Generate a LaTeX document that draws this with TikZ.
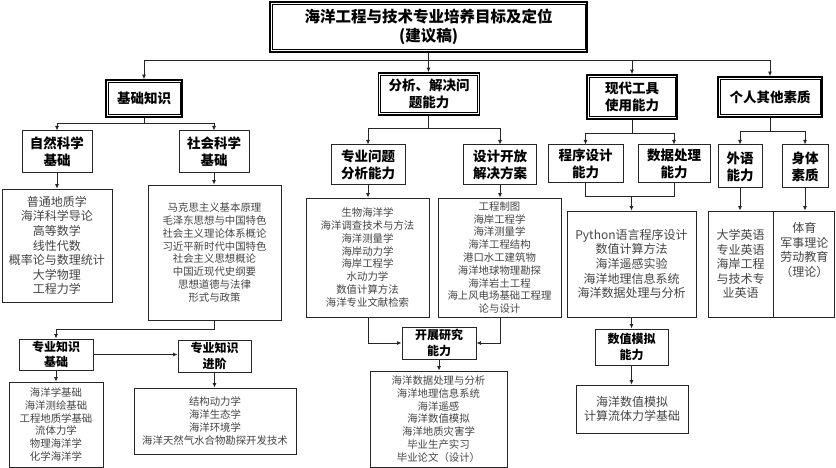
\documentclass[tikz,border=0pt]{standalone}
\usepackage{fontspec}
\setmainfont{Noto Sans CJK SC}
\usetikzlibrary{arrows.meta}
\definecolor{txtg}{HTML}{444444}
\tikzset{
  hd/.style={draw=black, line width=1.6pt, align=center, inner sep=0pt, font=\bfseries\fontsize{13.5}{17}\selectfont},
  sub/.style={draw=black!85, line width=1pt, align=center, inner sep=0pt, font=\bfseries\fontsize{13.5}{17}\selectfont},
  subs/.style={draw=black!85, line width=1pt, align=center, inner sep=0pt, font=\bfseries\fontsize{12}{15.5}\selectfont},
  lst/.style={draw=black!85, line width=0.8pt, align=center, inner sep=0pt, text=txtg, font=\fontsize{10.4}{12.8}\selectfont},
  lstb/.style={draw=black!85, line width=0.8pt, align=center, inner sep=0pt, text=txtg, font=\fontsize{12}{14.6}\selectfont},
  ln/.style={draw=black!85, line width=0.8pt},
  arr/.style={ln, -{Latex[length=4.5pt,width=4pt]}},
}
\newcommand{\dblin}[1]{\draw[line width=0.6pt] ([shift={(3,3)}]#1.north west) rectangle ([shift={(-3,-3)}]#1.south east);}
\begin{document}
\begin{tikzpicture}[x=1pt,y=-1pt]
\useasboundingbox (0,0) rectangle (836,468);
% title
\node[hd, minimum width=317pt, minimum height=50pt, font=\bfseries\fontsize{15.5}{19}\selectfont] (title) at (428.5,27) {海洋工程与技术专业培养目标及定位\\(建议稿)};
\dblin{title}
% level 1
\node[hd, minimum width=76pt, minimum height=37pt] (jc) at (144,98.5) {基础知识};
\node[hd, minimum width=101pt, minimum height=42pt] (fx) at (429,94) {分析、解决问\\题能力};
\node[hd, minimum width=90pt, minimum height=44pt] (xd) at (632,97) {现代工具\\使用能力};
\node[hd, minimum width=104pt, minimum height=40pt] (gr) at (770,97) {个人其他素质};
\dblin{jc}\dblin{fx}\dblin{xd}\dblin{gr}
% level 2
\node[sub, minimum width=70pt, minimum height=42pt] (zr) at (57,152) {自然科学\\基础};
\node[sub, minimum width=70pt, minimum height=42pt] (sh) at (214,152) {社会科学\\基础};
\node[sub, minimum width=74pt, minimum height=40pt] (zy) at (368,165) {专业问题\\分析能力};
\node[sub, minimum width=73pt, minimum height=40pt] (sj) at (500,165) {设计开放\\解决方案};
\node[sub, minimum width=75pt, minimum height=38pt] (cx) at (585.5,164) {程序设计\\能力};
\node[sub, minimum width=72pt, minimum height=38pt] (sc) at (674,164) {数据处理\\能力};
\node[sub, minimum width=44pt, minimum height=43pt] (wy) at (740,166.5) {外语\\能力};
\node[sub, minimum width=46pt, minimum height=43pt] (st) at (805,166.5) {身体\\素质};
% lists
\node[lstb, minimum width=110pt, minimum height=113pt] (zrl) at (57,245.5) {普通地质学\\海洋科学导论\\高等数学\\线性代数\\概率论与数理统计\\大学物理\\工程力学};
\node[lst, minimum width=133pt, minimum height=135pt] (shl) at (214.5,252.5) {马克思主义基本原理\\毛泽东思想与中国特色\\社会主义理论体系概论\\习近平新时代中国特色\\社会主义思想概论\\中国近现代史纲要\\思想道德与法律\\形式与政策};
\node[lst, minimum width=123pt, minimum height=119pt] (zyl) at (367.5,257.5) {生物海洋学\\海洋调查技术与方法\\海洋测量学\\海岸动力学\\海岸工程学\\水动力学\\数值计算方法\\海洋专业文献检索};
\node[lst, minimum width=123pt, minimum height=119pt] (sjl) at (499.5,257.5) {工程制图\\海岸工程学\\海洋测量学\\海洋工程结构\\港口水工建筑物\\海洋地球物理勘探\\海洋岩土工程\\海上风电场基础工程理\\论与设计};
\node[lstb, minimum width=129pt, minimum height=106pt] (gjl) at (631.5,264) {Python语言程序设计\\数值计算方法\\海洋遥感实验\\海洋地理信息系统\\海洋数据处理与分析};
\node[lstb, minimum width=65pt, minimum height=106pt] (wyl) at (740.5,264) {大学英语\\专业英语\\海岸工程\\与技术专\\业英语};
\node[lstb, minimum width=61pt, minimum height=106pt, anchor=north west] (stl) at (wyl.north east) {体育\\军事理论\\劳动教育\\（理论）\\[14.6pt]};
% lower
\node[subs, minimum width=74pt, minimum height=31pt] (jcz) at (56,354.5) {专业知识\\基础};
\node[subs, minimum width=73pt, minimum height=32pt] (jj) at (214.5,356) {专业知识\\进阶};
\node[lst, minimum width=94pt, minimum height=85pt] (jczl) at (56,424.5) {海洋学基础\\海洋测绘基础\\工程地质学基础\\流体力学\\物理海洋学\\化学海洋学};
\node[lst, minimum width=162pt, minimum height=66pt] (jjl) at (215,421) {结构动力学\\海洋生态学\\海洋环境学\\海洋天然气水合物勘探开发技术};
\node[subs, minimum width=74pt, minimum height=32pt] (kz) at (439,343) {开展研究\\能力};
\node[lst, minimum width=137pt, minimum height=96pt] (kzl) at (438.5,419) {海洋数据处理与分析\\海洋地理信息系统\\海洋遥感\\海洋数值模拟\\海洋地质灾害学\\毕业生产实习\\毕业论文（设计）};
\node[subs, minimum width=73pt, minimum height=36pt] (sz) at (631.5,347) {数值模拟\\能力};
\node[lstb, minimum width=112pt, minimum height=48pt] (szl) at (632,409) {海洋数值模拟\\计算流体力学基础};
% buses
\coordinate (b0) at (0,60);
\coordinate (b1) at (0,123);
\coordinate (b2) at (0,128);
\coordinate (b3) at (0,133);
\coordinate (b4) at (0,131);
\coordinate (b5) at (0,196);
\coordinate (b6) at (0,329);
\coordinate (b7) at (0,343);
% top bus
\draw[arr] (title.south) -- (title.south |- fx.north);
\draw[ln] (jc.north |- b0) -- (gr.north |- b0);
\draw[arr] (jc.north |- b0) -- (jc.north);
\draw[arr] (xd.north |- b0) -- (xd.north);
\draw[arr] (gr.north |- b0) -- (gr.north);
% jc fork
\draw[ln] (jc.south) -- (jc.south |- b1);
\draw[ln] (zr.north |- b1) -- (sh.north |- b1);
\draw[arr] (zr.north |- b1) -- (zr.north);
\draw[arr] (sh.north |- b1) -- (sh.north);
% fx fork
\draw[ln] (fx.south -| title.south) -- (title.south |- b2);
\draw[ln] (zy.north |- b2) -- (sj.north |- b2);
\draw[arr] (zy.north |- b2) -- (zy.north);
\draw[arr] (sj.north |- b2) -- (sj.north);
% xd fork
\draw[ln] (xd.south) -- (xd.south |- b3);
\draw[ln] (cx.north |- b3) -- (sc.north |- b3);
\draw[arr] (cx.north |- b3) -- (cx.north);
\draw[arr] (sc.north |- b3) -- (sc.north);
% gr fork
\draw[ln] (gr.south) -- (gr.south |- b4);
\draw[ln] (wy.north |- b4) -- (st.north |- b4);
\draw[arr] (wy.north |- b4) -- (wy.north);
\draw[arr] (st.north |- b4) -- (st.north);
% to lists
\draw[arr] (zr.south) -- (zr.south |- zrl.north);
\draw[arr] (sh.south) -- (sh.south |- shl.north);
\draw[arr] (zy.south) -- (zy.south |- zyl.north);
\draw[arr] (sj.south) -- (sj.south |- sjl.north);
\draw[arr] (wy.south) -- (wy.south |- wyl.north);
\draw[arr] (st.south) -- (st.south |- stl.north);
\draw[ln] (cx.south) -- (cx.south |- b5) -- (sc.south |- b5) -- (sc.south);
\draw[arr] (gjl.north |- b5) -- (gjl.north);
% social to zhuanye
\draw[arr] (shl.south -| sh.south) -- (sh.south |- b6) -- (jcz.north |- b6) -- (jcz.north);
\draw[arr] (jcz.east) -- (jcz.east -| jj.west);
\draw[arr] (jcz.south) -- (jcz.south |- jczl.north);
\draw[arr] (jj.south) -- (jj.south |- jjl.north);
% research
\draw[arr] (zyl.south -| zy.south) -- (zy.south |- b7) -- (kz.west |- b7);
\draw[arr] (sjl.south -| sj.south) -- (sj.south |- b7) -- (kz.east |- b7);
\draw[arr] (kz.south) -- (kz.south |- kzl.north);
% tools
\draw[arr] (gjl.south) -- (gjl.south |- sz.north);
\draw[arr] (sz.south) -- (sz.south |- szl.north);
\end{tikzpicture}
\end{document}
